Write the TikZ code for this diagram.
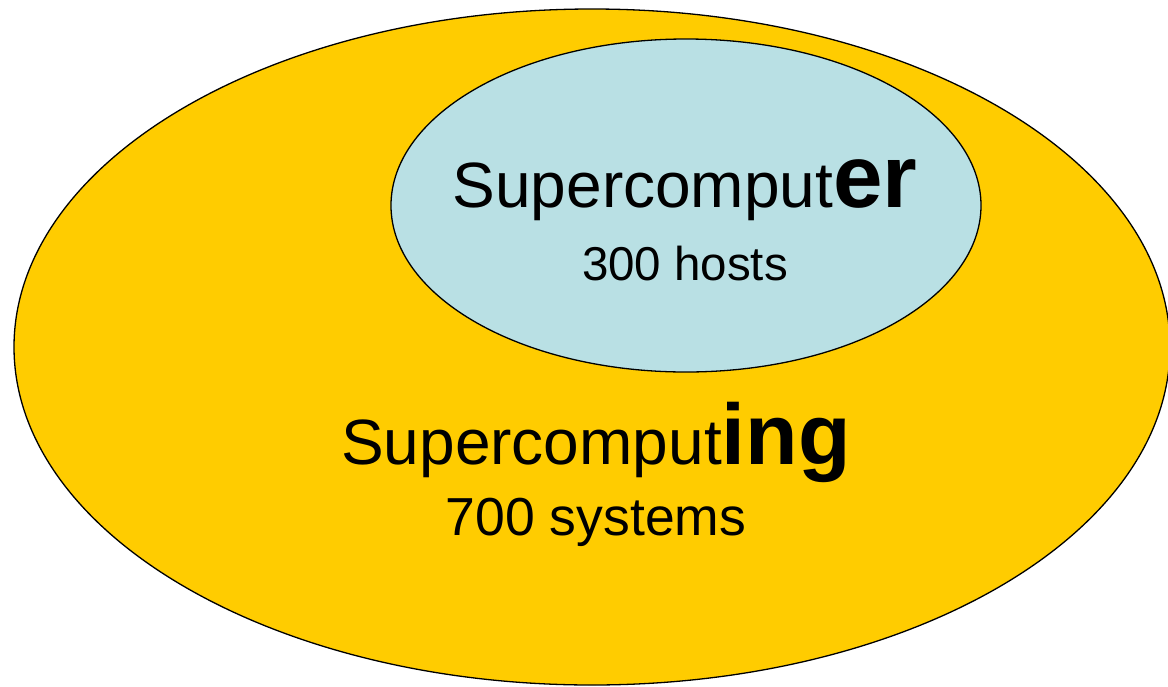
\documentclass[tikz,border=0pt]{standalone}
\usepackage{fontspec}
\setmainfont{Liberation Sans}
\usetikzlibrary{shapes.geometric}
\definecolor{outerfill}{RGB}{255,204,0}
\definecolor{innerfill}{RGB}{185,224,228}
\tikzset{
  blob/.style={ellipse, draw=black, line width=1.3pt, inner sep=0pt},
  label/.style={anchor=base, inner sep=0pt, text=black}
}
\begin{document}
\begin{tikzpicture}[x=1pt,y=-1pt]
\useasboundingbox (0,0) rectangle (1168,686);
\clip (0,0) rectangle (1168,686);
\node[blob, fill=outerfill, minimum width=1156pt, minimum height=676pt] (outer) at (592,347) {};
\node[blob, fill=innerfill, minimum width=590pt, minimum height=333pt] (inner) at (686,205.5) {};
\node[label] (t1) at (685,207) {\fontsize{64}{64}\selectfont Supercomput{\fontsize{89}{89}\selectfont\bfseries er}};
\node[label] (t2) at (685,280) {\fontsize{47.5}{47.5}\selectfont 300 hosts};
\node[label] (t3) at (596,464) {\fontsize{64}{64}\selectfont Supercomput{\fontsize{86}{86}\selectfont\bfseries ing}};
\node[label] (t4) at (596,535) {\fontsize{53.5}{53.5}\selectfont 700 systems};
\end{tikzpicture}
\end{document}
